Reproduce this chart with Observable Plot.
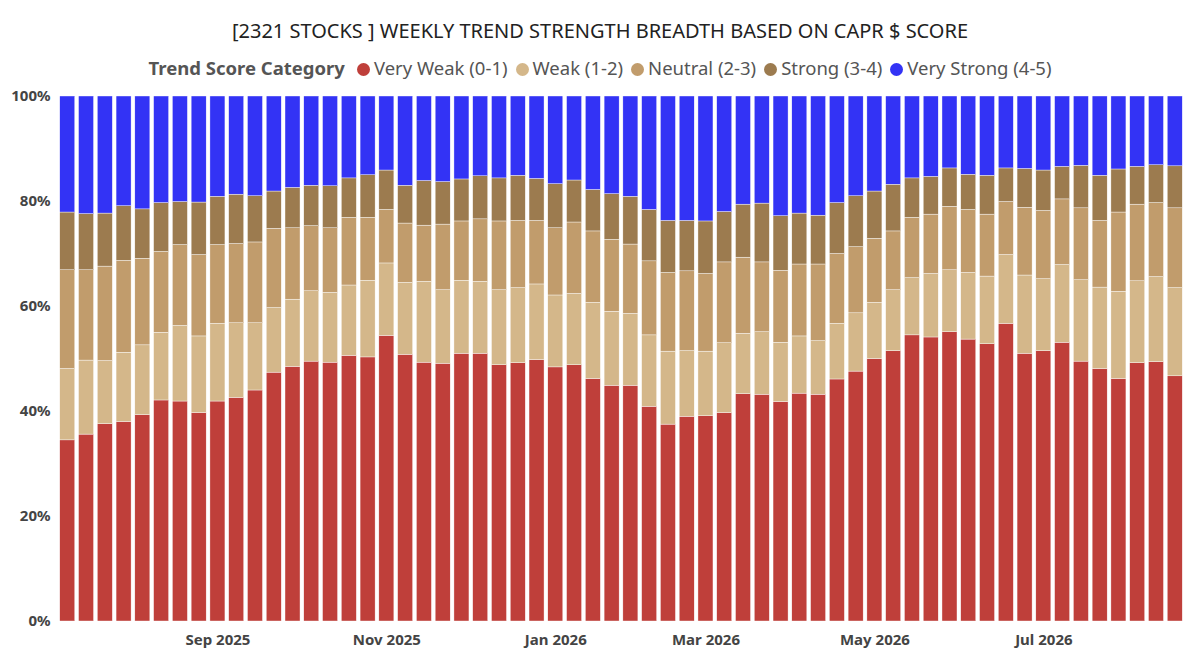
<!DOCTYPE html>
<html><head><meta charset="utf-8">
<script src="https://cdn.jsdelivr.net/npm/d3@7"></script>
<script src="https://cdn.jsdelivr.net/npm/@observablehq/plot@0.6"></script>
<style>
body{margin:0;background:#fff;font-family:"Noto Sans",sans-serif;width:1200px;overflow:hidden}
#title{height:46px;line-height:62px;text-align:center;font-size:20px;color:#222}
#legend{height:39px;line-height:46px;display:flex;justify-content:center;align-items:center;font-size:18.5px;color:#555;gap:8px;padding-top:4px;box-sizing:border-box}
#legend b{color:#555;margin-right:4px}
.sw{display:inline-block;width:13px;height:13px;border-radius:50%;margin-right:4px;vertical-align:-1px}
</style></head><body>
<div id="title">[2321 STOCKS ] WEEKLY TREND STRENGTH BREADTH BASED ON CAPR $ SCORE</div>
<div id="legend"></div>
<div id="chart"></div>
<script>
const categories=["Very Weak (0-1)","Weak (1-2)","Neutral (2-3)","Strong (3-4)","Very Strong (4-5)"];
const colors=["#bf3f3a","#d4b78a","#c19c6c","#9c7b4f","#3333f5"];
const veryWeak=[34.5,35.6,37.6,38.0,39.3,42.1,41.9,39.7,41.9,42.6,44.0,47.4,48.5,49.5,49.3,50.6,50.3,54.4,50.8,49.3,49.1,51.0,51.0,48.8,49.2,49.8,48.4,48.8,46.2,44.9,44.9,40.9,37.5,39.0,39.1,39.7,43.3,43.2,41.8,43.4,43.2,46.1,47.6,50.0,51.5,54.5,54.1,55.1,53.7,52.8,56.7,51.0,51.5,53.1,49.5,48.1,46.2,49.2,49.4,46.7];
const weak=[13.6,14.1,12.0,13.2,13.3,12.9,14.4,14.6,14.8,14.2,12.8,12.3,12.8,13.4,13.3,13.4,14.6,13.8,13.7,15.4,14.0,13.9,13.7,14.3,14.3,14.4,13.7,13.6,14.5,14.1,13.7,13.6,13.9,12.5,12.3,13.3,11.5,11.9,11.3,10.9,10.2,10.6,11.1,10.7,11.6,10.9,12.1,11.8,12.7,12.9,13.1,14.9,13.7,14.8,15.5,15.5,16.6,15.6,16.2,16.8];
const neutral=[18.8,17.2,18.0,17.5,16.5,15.4,15.4,15.5,15.0,15.1,15.4,15.1,13.6,12.4,12.3,12.9,12.0,10.2,11.3,10.7,12.5,11.3,11.9,13.1,12.8,12.1,12.8,13.6,13.6,13.7,13.2,14.1,15.0,15.2,14.8,15.4,14.5,13.3,13.7,13.7,14.6,13.3,12.6,12.2,11.2,11.5,11.3,12.1,12.0,11.8,10.1,12.9,13.0,12.5,13.7,12.7,15.1,14.6,14.1,15.2];
const strong=[11.0,10.7,10.1,10.4,9.4,9.3,8.2,10.0,9.2,9.4,8.8,7.1,7.7,7.7,8.0,7.5,8.1,7.5,7.2,8.5,8.1,8.0,8.2,8.2,8.6,8.0,8.4,8.0,7.9,8.7,9.1,9.8,9.9,9.6,10.0,9.6,10.1,11.2,10.4,9.7,9.3,9.7,9.7,9.0,8.9,7.5,7.2,7.3,6.7,7.4,6.4,7.4,7.7,6.2,8.1,8.6,8.2,7.2,7.2,8.0];
const veryStrong=[22.1,22.4,22.3,20.9,21.5,20.3,20.1,20.2,19.1,18.7,19.0,18.1,17.4,17.0,17.1,15.6,15.0,14.1,17.0,16.1,16.3,15.8,15.2,15.6,15.1,15.7,16.7,16.0,17.8,18.6,19.1,21.6,23.7,23.7,23.8,22.0,20.6,20.4,22.8,22.3,22.7,20.3,19.0,18.1,16.8,15.6,15.3,13.7,14.9,15.1,13.7,13.8,14.1,13.4,13.2,15.1,13.9,13.4,13.1,13.3];
const tickIndex=[8,17,26,34,43,52];
const tickLabels=["Sep 2025","Nov 2025","Jan 2026","Mar 2026","May 2026","Jul 2026"];
const series=[veryWeak,weak,neutral,strong,veryStrong];
const rows=[];
series.forEach((s,k)=>s.forEach((v,i)=>rows.push({week:i,cat:categories[k],value:v/100})));
const lg=document.getElementById("legend");
lg.innerHTML="<b>Trend Score Category</b>"+categories.map((c,k)=>`<span><span class="sw" style="background:${colors[k]}"></span>${c}</span>`).join("");
const labelMap=new Map(tickIndex.map((t,i)=>[t,tickLabels[i]]));
const chart=Plot.plot({
  width:1200,height:582,marginTop:11,marginBottom:46,marginLeft:56,marginRight:14,
  style:{fontFamily:"Noto Sans",fontSize:"15px",color:"#444"},
  x:{type:"band",domain:d3.range(veryWeak.length),padding:0.2,label:null},
  y:{domain:[0,1],label:null},
  color:{domain:categories,range:colors},
  marks:[
    Plot.barY(rows,{x:"week",y:"value",fill:"cat",order:categories,stroke:"white",strokeWidth:0.4}),
    Plot.axisX({ticks:tickIndex,tickFormat:d=>labelMap.get(d),tickSize:0,fontWeight:"bold",fontSize:15,fill:"#444",tickPadding:13,label:null}),
    Plot.axisY({ticks:[0,.2,.4,.6,.8,1],tickFormat:d=>Math.round(d*100)+"%",tickSize:0,fontWeight:"bold",fontSize:15,fill:"#444",label:null,tickPadding:6})
  ]
});
document.getElementById("chart").appendChild(chart);
</script></body></html>
